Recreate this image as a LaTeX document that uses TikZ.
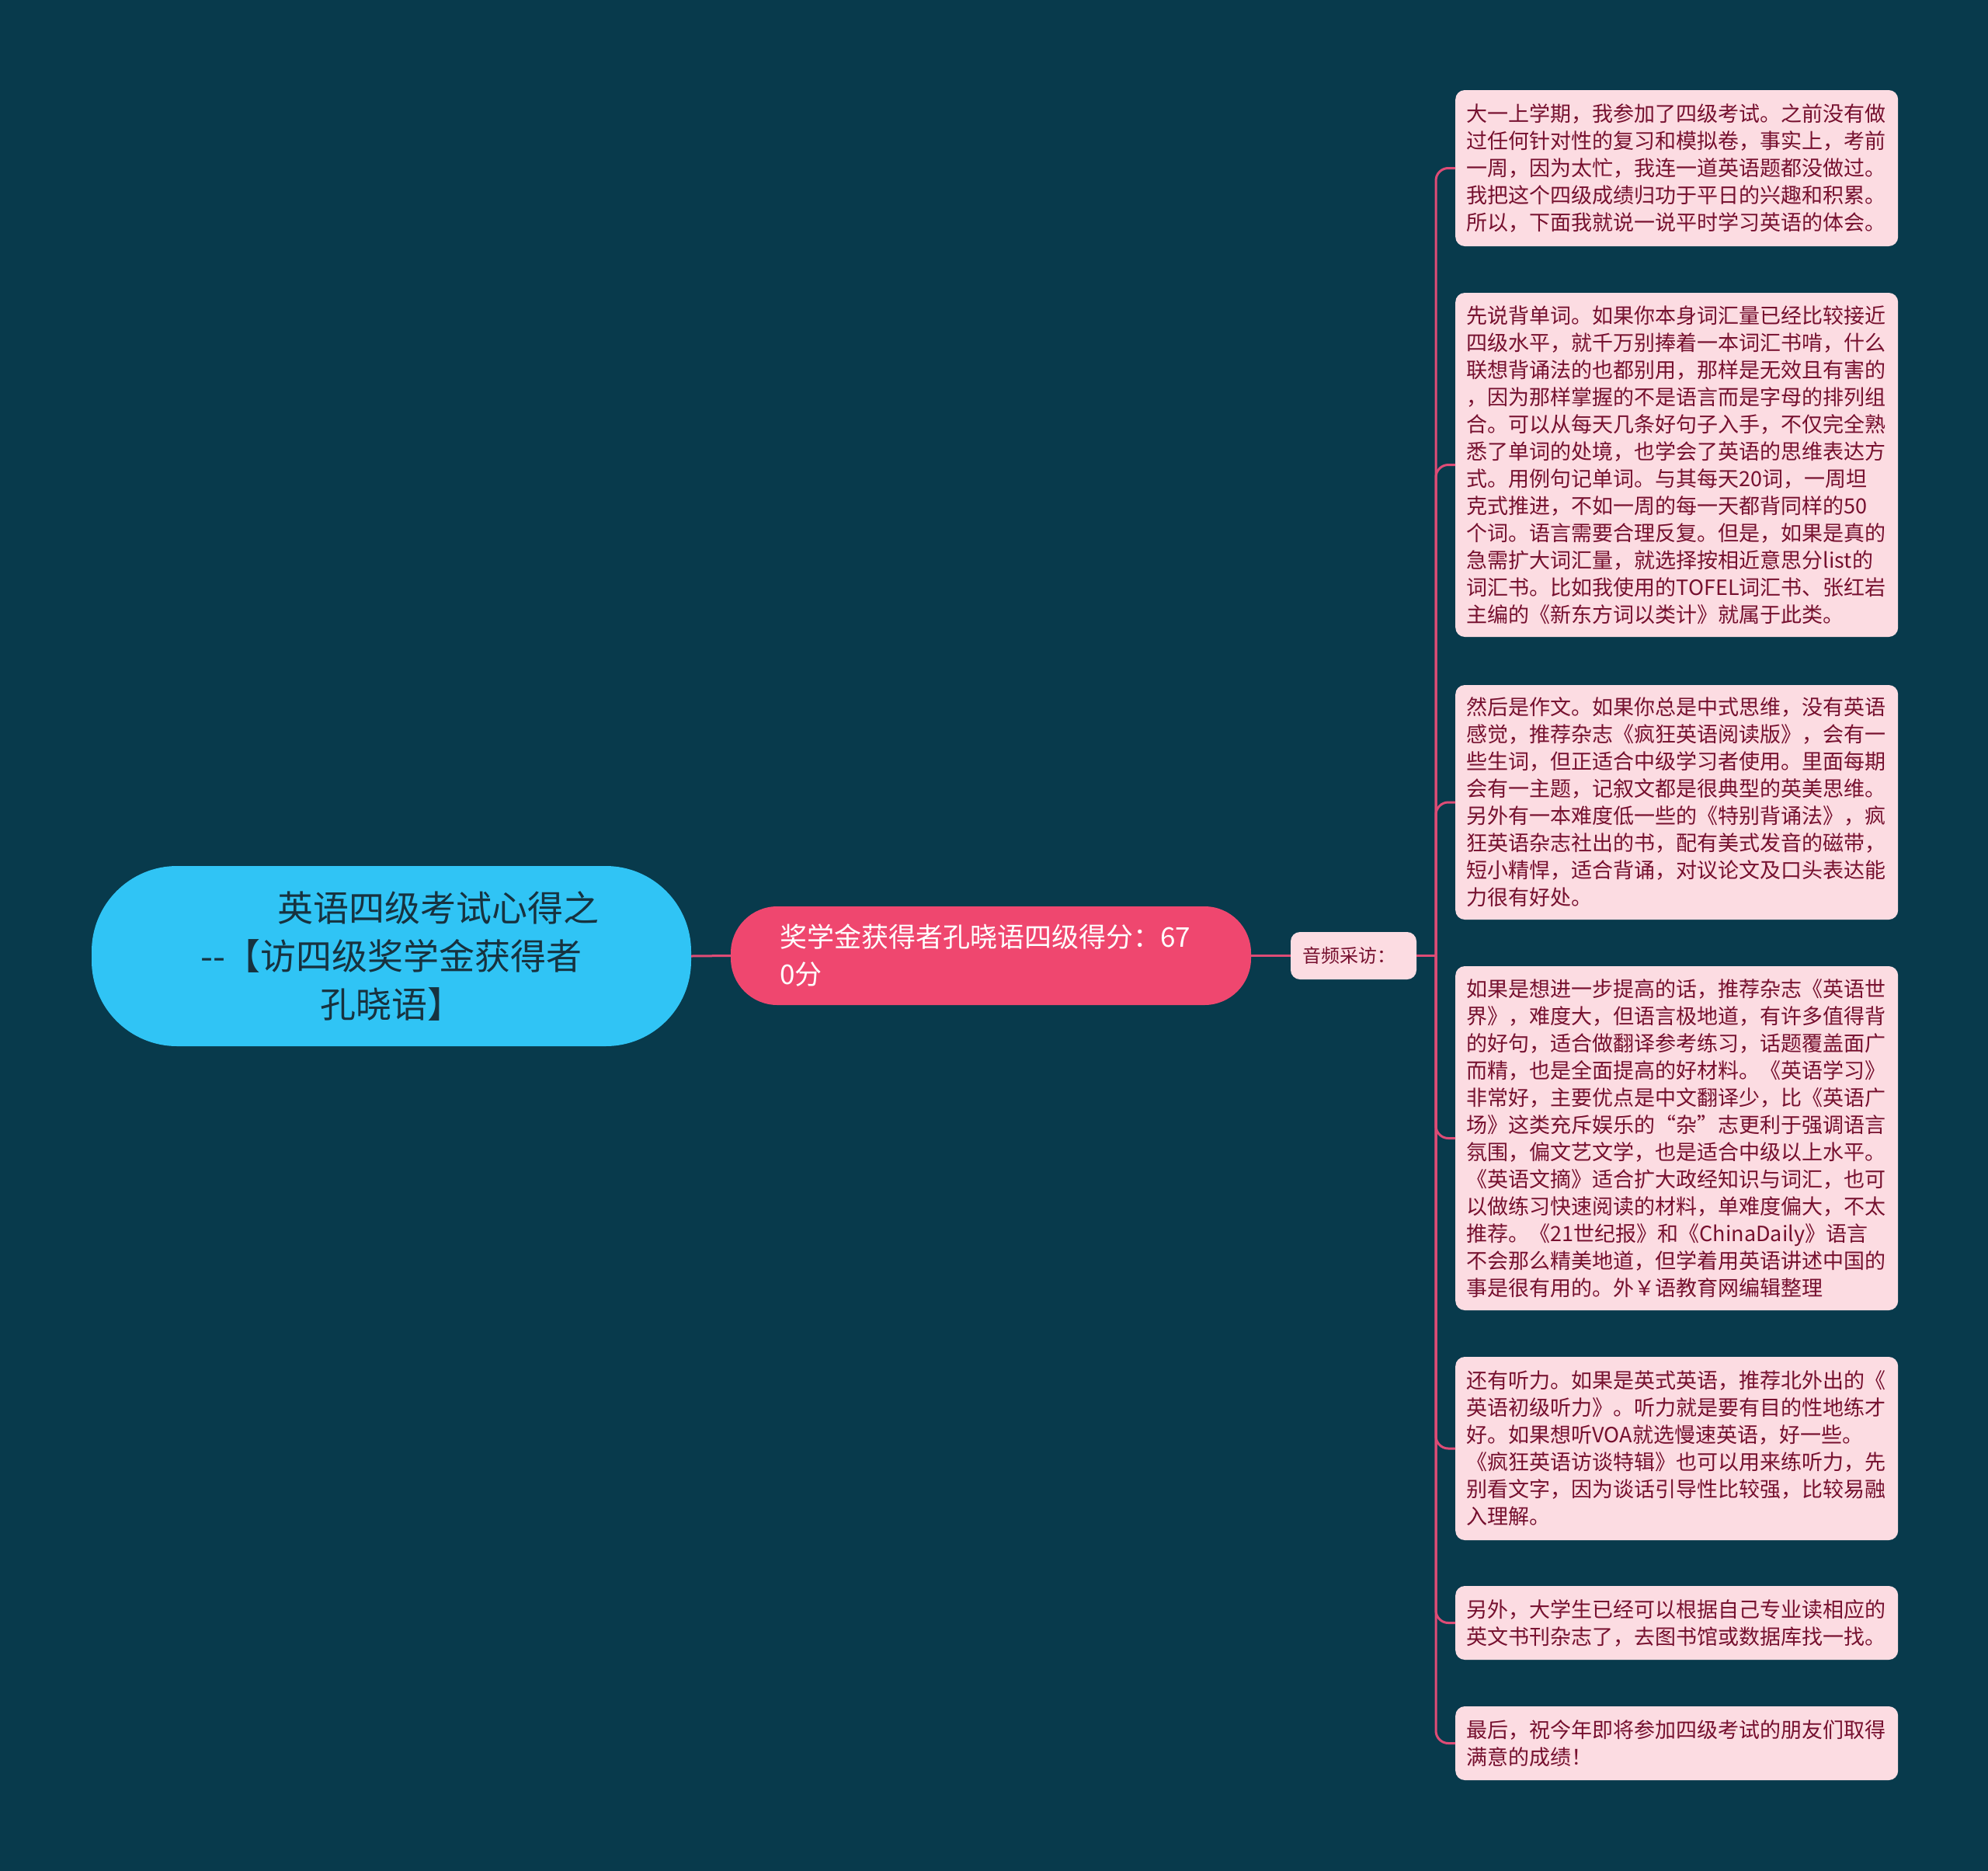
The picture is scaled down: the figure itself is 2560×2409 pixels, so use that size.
\documentclass[tikz,border=0pt]{standalone}
\usepackage{fontspec}
\setmainfont{Noto Sans CJK SC}
\definecolor{bgc}{HTML}{083A4C}
\definecolor{rootfill}{HTML}{30C4F5}
\definecolor{roottext}{HTML}{17323F}
\definecolor{scorefill}{HTML}{EF476F}
\definecolor{boxfill}{HTML}{FCDCE2}
\definecolor{boxtext}{HTML}{76102F}
\definecolor{connc}{HTML}{DE4C76}
\begin{document}
\begin{tikzpicture}[x=1pt,y=-1pt,
  leaf/.style={fill=boxfill, text=boxtext, rounded corners=12pt, anchor=west,
    text width=541pt, align=left, inner xsep=14.5pt, inner ysep=0pt,
    minimum width=570pt, font=\fontsize{27}{35}\selectfont},
  rootnode/.style={fill=rootfill, text=roottext, rounded corners=110pt,
    minimum width=772pt, minimum height=232pt, align=center,
    font=\fontsize{46}{62}\selectfont},
  scorenode/.style={fill=scorefill, text=white, rounded corners=60pt,
    minimum width=670pt, minimum height=127pt, text width=544pt, inner xsep=63pt,
    align=left, font=\fontsize{35}{48}\selectfont},
  audionode/.style={fill=boxfill, text=boxtext, rounded corners=12pt,
    minimum width=162pt, minimum height=61pt, text width=132pt, inner xsep=15pt,
    align=left, font=\fontsize{24}{30}\selectfont},
  connline/.style={draw=connc, line width=3pt},
  branch/.style={draw=connc, line width=3pt, rounded corners=16pt}]
\fill[bgc] (0,0) rectangle (2560,2409);
\useasboundingbox (0,0) rectangle (2560,2409);

\node[rootnode] (root) at (504,1231) {\hspace*{120pt}英语四级考试心得之\\-{}-【访四级奖学金获得者\\孔晓语】};
\node[scorenode] (score) at (1276,1230.5) {奖学金获得者孔晓语四级得分：67\\0分};
\node[audionode] (audio) at (1743,1230.5) {音频采访：};
\coordinate (trunk) at (1849,1230.5);

\node[leaf, minimum height=201pt] (b1) at (1874,216.5) {大一上学期，我参加了四级考试。之前没有做\\过任何针对性的复习和模拟卷，事实上，考前\\一周，因为太忙，我连一道英语题都没做过。\\我把这个四级成绩归功于平日的兴趣和积累。\\所以，下面我就说一说平时学习英语的体会。};
\node[leaf, minimum height=443pt] (b2) at (1874,598.5) {先说背单词。如果你本身词汇量已经比较接近\\四级水平，就千万别捧着一本词汇书啃，什么\\联想背诵法的也都别用，那样是无效且有害的\\，因为那样掌握的不是语言而是字母的排列组\\合。可以从每天几条好句子入手，不仅完全熟\\悉了单词的处境，也学会了英语的思维表达方\\式。用例句记单词。与其每天20词，一周坦\\克式推进，不如一周的每一天都背同样的50\\个词。语言需要合理反复。但是，如果是真的\\急需扩大词汇量，就选择按相近意思分list的\\词汇书。比如我使用的TOFEL词汇书、张红岩\\主编的《新东方词以类计》就属于此类。};
\node[leaf, minimum height=302pt] (b3) at (1874,1033) {然后是作文。如果你总是中式思维，没有英语\\感觉，推荐杂志《疯狂英语阅读版》，会有一\\些生词，但正适合中级学习者使用。里面每期\\会有一主题，记叙文都是很典型的英美思维。\\另外有一本难度低一些的《特别背诵法》，疯\\狂英语杂志社出的书，配有美式发音的磁带，\\短小精悍，适合背诵，对议论文及口头表达能\\力很有好处。};
\node[leaf, minimum height=443pt] (b4) at (1874,1465.5) {如果是想进一步提高的话，推荐杂志《英语世\\界》，难度大，但语言极地道，有许多值得背\\的好句，适合做翻译参考练习，话题覆盖面广\\而精，也是全面提高的好材料。《英语学习》\\非常好，主要优点是中文翻译少，比《英语广\\场》这类充斥娱乐的“杂”志更利于强调语言\\氛围，偏文艺文学，也是适合中级以上水平。\\《英语文摘》适合扩大政经知识与词汇，也可\\以做练习快速阅读的材料，单难度偏大，不太\\推荐。《21世纪报》和《ChinaDaily》语言\\不会那么精美地道，但学着用英语讲述中国的\\事是很有用的。外￥语教育网编辑整理};
\node[leaf, minimum height=236pt] (b5) at (1874,1865) {还有听力。如果是英式英语，推荐北外出的《\\英语初级听力》。听力就是要有目的性地练才\\好。如果想听VOA就选慢速英语，好一些。\\《疯狂英语访谈特辑》也可以用来练听力，先\\别看文字，因为谈话引导性比较强，比较易融\\入理解。};
\node[leaf, minimum height=95pt] (b6) at (1874,2089.5) {另外，大学生已经可以根据自己专业读相应的\\英文书刊杂志了，去图书馆或数据库找一找。};
\node[leaf, minimum height=95pt] (b7) at (1874,2244.5) {最后，祝今年即将参加四级考试的朋友们取得\\满意的成绩！};

\draw[connline] (root.east) -- (score.west);
\draw[connline] (score.east) -- (audio.west);
\draw[connline] (audio.east) -- (trunk);
\foreach \b in {b1,b2,b3,b4,b5,b6,b7}
  \draw[branch] (trunk) |- (\b.west);
\end{tikzpicture}
\end{document}
